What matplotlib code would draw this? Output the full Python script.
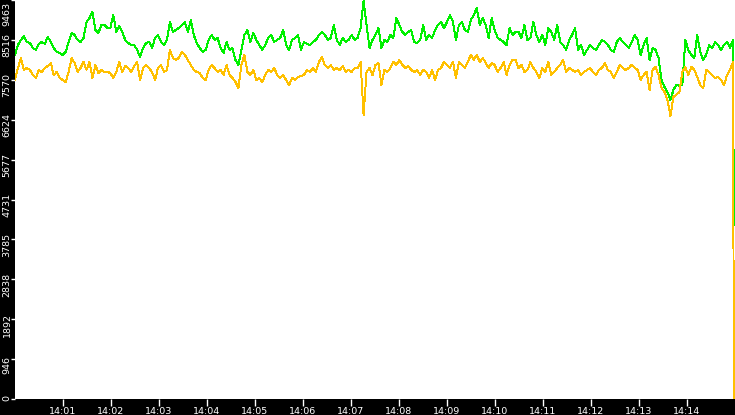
import matplotlib
matplotlib.use("Agg")
import matplotlib.pyplot as plt
import matplotlib.dates as mdates
import matplotlib.transforms as mtrans
import numpy as np
import pandas as pd

# ---------------- data ----------------
green = [
    8160, 8397, 8516, 8610, 8468, 8444, 8326, 8279, 8421, 8468, 8421, 8587, 8468, 8326, 8231, 8207, 8160, 8231, 8468, 8682, 8634, 8516, 8468, 8563, 8942, 9037, 9180, 8752, 8682, 8871, 8871, 8800, 8800, 9108, 8705, 8847, 8705, 8516, 8444, 8397, 8397, 8279,
    8112, 8326, 8444, 8468, 8326, 8563, 8634, 8468, 8397, 8516, 8942, 8705, 8752, 8800, 8871, 8942, 8705, 8989, 8634, 8444, 8326, 8231, 8279, 8516, 8634, 8516, 8563, 8326, 8207, 8468, 8279, 8326, 8041, 7922, 8279, 8634, 8752, 8468, 8682, 8516, 8397, 8279,
    8397, 8563, 8634, 8468, 8516, 8563, 8752, 8397, 8279, 8516, 8563, 8634, 8279, 8468, 8421, 8397, 8468, 8516, 8634, 8705, 8634, 8516, 8563, 8871, 8516, 8397, 8563, 8468, 8516, 8634, 8516, 8563, 8800, 9440, 8871, 8326, 8516, 8634, 8800, 8326, 8516, 8468,
    8634, 8563, 9037, 8871, 8705, 8634, 8705, 8752, 8468, 8444, 8516, 8871, 8516, 8634, 8563, 8752, 8871, 8942, 8800, 8942, 9108, 8942, 8516, 8871, 8942, 8752, 8705, 8989, 9108, 9274, 8871, 9037, 8871, 8563, 9037, 8752, 8563, 8516, 8468, 8397, 8800, 8634,
    8705, 8705, 8563, 8871, 8516, 8563, 8942, 8634, 8468, 8634, 8397, 8800, 8705, 8516, 8871, 8468, 8397, 8279, 8516, 8634, 8800, 8279, 8397, 8160, 8279, 8397, 8326, 8279, 8397, 8516, 8468, 8397, 8279, 8231, 8468, 8563, 8468, 8397, 8326, 8468, 8634, 8516,
    8160, 8397, 8563, 8041, 8326, 8279, 8089, 7567, 7401, 7282, 7093, 7330, 7449, 7425, 7449, 8516, 8279, 8160, 8089, 8634, 8231, 8041, 8160, 8397, 8326, 8468, 8397, 8279, 8397, 8468, 8326, 8516,
    4127,
]
orange = [
    7567, 7851, 8089, 7804, 7851, 7804, 7685, 7614, 7804, 7756, 7851, 7899, 7970, 7685, 7756, 7614, 7567, 7519, 7756, 8089, 7970, 7756, 7851, 7994, 7804, 7994, 7614, 7922, 7733, 7804, 7756, 7756, 7733, 7614, 7756, 7994, 7756, 7899, 7851, 7756, 7899, 7994,
    7567, 7851, 7922, 7851, 7756, 7567, 7851, 7922, 7756, 7804, 8279, 8089, 8041, 8089, 8231, 8160, 8041, 7922, 7804, 7756, 7733, 7614, 7567, 7804, 7922, 7851, 7756, 7804, 7685, 7922, 7685, 7614, 7519, 7377, 7922, 8160, 7756, 7685, 7804, 7567, 7614, 7519,
    7685, 7804, 7756, 7851, 7685, 7614, 7685, 7567, 7449, 7614, 7567, 7638, 7662, 7685, 7804, 7756, 7851, 7756, 7994, 8112, 7922, 7851, 7922, 7804, 7851, 7804, 7899, 7756, 7804, 7756, 7851, 7851, 7994, 6736, 7756, 7851, 7685, 7922, 7970, 7449, 7804, 7756,
    7851, 7994, 7922, 8041, 7922, 7851, 7899, 7804, 7756, 7804, 7685, 7804, 7756, 7614, 7804, 7567, 7804, 7851, 7994, 7922, 7851, 7994, 7614, 7994, 7922, 7851, 7994, 8160, 8041, 8160, 7994, 8089, 7970, 7851, 7970, 7922, 7756, 7851, 7994, 7685, 7922, 8041,
    8041, 7851, 7922, 7756, 7804, 7994, 7851, 7756, 7614, 7851, 7756, 7994, 7685, 7756, 7851, 7922, 8041, 7756, 7851, 7804, 7756, 7804, 7685, 7756, 7804, 7851, 7756, 7685, 7804, 7851, 7970, 7804, 7756, 7614, 7756, 7922, 7851, 7804, 7851, 7922, 7851, 7804,
    7567, 7685, 7756, 7330, 7804, 7875, 7685, 7377, 7282, 7093, 6710, 7164, 7212, 7282, 7756, 7875, 7685, 7875, 7804, 7638, 7449, 7377, 7804, 7756, 7685, 7614, 7638, 7567, 7449, 7685, 7804, 7994,
    0,
]
ytick_values = [0, 946, 1892, 2838, 3785, 4731, 5677, 6624, 7570, 8516, 9463]
ytick_labels = ["0", "946", "1892", "2838", "3785", "4731", "5677", "6624", "7570", "8516", "9463"]
start_time = "2024-01-01 14:00:00"
span_minutes = 15

# ---------------- figure ----------------
W, H = 735, 415
fig = plt.figure(figsize=(W / 100, H / 100), dpi=100, facecolor="black")
ax = fig.add_axes([15 / W, 16 / H, 720 / W, 399 / H])
ax.set_facecolor("white")
for s in ax.spines.values():
    s.set_visible(False)

t0 = pd.Timestamp(start_time)
n = len(green)
secs = np.append(np.linspace(0, 897.5, n - 1), 898.6)
times = t0 + pd.to_timedelta(secs, unit="s")

ax.plot(times, green, color="#00f000", lw=0.7, antialiased=False)
ax.plot(times, orange, color="#ffc000", lw=0.7, antialiased=False)

ax.set_xlim(t0, t0 + pd.Timedelta(minutes=span_minutes))
ax.set_ylim(ytick_values[0], ytick_values[-1])

FS = 6.8
ax.xaxis.set_major_locator(mdates.MinuteLocator(byminute=range(1, span_minutes)))
ax.xaxis.set_major_formatter(mdates.DateFormatter("%H:%M"))
ax.tick_params(axis="x", colors="white", length=5, width=1, pad=8.3 * 0.72,
               labelsize=FS, direction="out")
for lab in ax.get_xticklabels():
    lab.set_verticalalignment("baseline")

ax.set_yticks(ytick_values)
ax.set_yticklabels([])
ax.tick_params(axis="y", colors="white", length=3, width=1, direction="out")

base = ax.get_yaxis_transform()
for i, (v, lab) in enumerate(zip(ytick_values, ytick_labels)):
    if i == 0:
        dy = 1.5
    elif i == len(ytick_values) - 1:
        dy = -13.5
    else:
        dy = -5.5
    tr = base + mtrans.ScaledTranslation(-8 / 100, dy / 100, fig.dpi_scale_trans)
    ax.text(0, v, lab, transform=tr, rotation=90, rotation_mode="anchor",
            ha="center", va="center", color="white", fontsize=FS, clip_on=False)

fig.savefig("out.png", dpi=100, facecolor="black")
